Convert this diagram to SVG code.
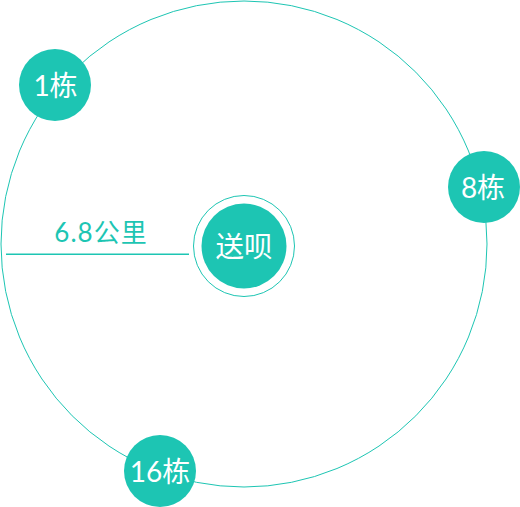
<svg xmlns="http://www.w3.org/2000/svg" width="520" height="507" viewBox="0 0 520 507">
<style>
.node{fill:#1dc5b3}
.lbl{fill:#ffffff;font-family:Lato,"Noto Sans CJK SC",sans-serif;text-anchor:middle}
.orbit{fill:none;stroke:#1dc5b3;stroke-width:1}
</style>
<rect width="520" height="507" fill="#ffffff"/>
<g id="connectors">
<circle class="orbit" cx="244" cy="244" r="243"/>
<line x1="6" y1="254.3" x2="189" y2="254.3" stroke="#1dc5b3" stroke-width="1.5"/>
<text x="101" y="242" font-family="Lato,&quot;Noto Sans CJK SC&quot;,sans-serif" font-size="26" fill="#1dc5b3" text-anchor="middle" letter-spacing="1">6.8公里</text>
</g>
<g id="center">
<circle cx="244" cy="246" r="50.5" fill="#ffffff" stroke="#1dc5b3" stroke-width="1"/>
<circle class="node" cx="244" cy="246" r="42.5"/>
<text class="lbl" x="244" y="257" font-size="28.5">送呗</text>
</g>
<g id="node1">
<circle class="node" cx="55" cy="85" r="36"/>
<text class="lbl" x="55.5" y="96" font-size="28">1栋</text>
</g>
<g id="node8">
<circle class="node" cx="484" cy="187" r="36"/>
<text class="lbl" x="483" y="198" font-size="28">8栋</text>
</g>
<g id="node16">
<circle class="node" cx="160" cy="471" r="36"/>
<text class="lbl" x="160" y="481.5" font-size="28">16栋</text>
</g>
</svg>
